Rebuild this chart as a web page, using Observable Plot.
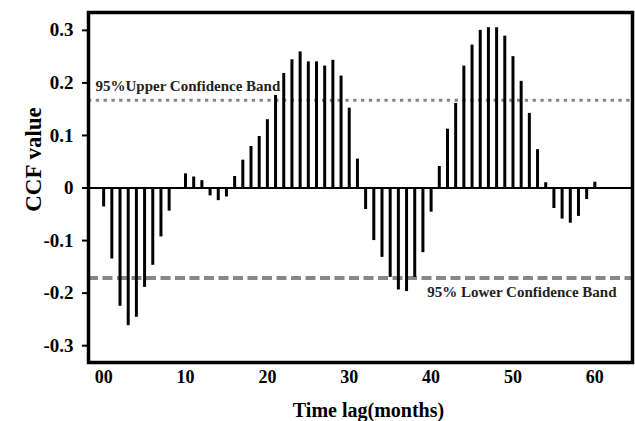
<!DOCTYPE html>
<html>
<head>
<meta charset="utf-8">
<script src="https://cdn.jsdelivr.net/npm/d3@7"></script>
<script src="https://cdn.jsdelivr.net/npm/@observablehq/plot@0.6"></script>
<style>
  html, body { margin: 0; padding: 0; background: #fff; }
</style>
</head>
<body>
<div id="chart"></div>
<script>
const lags = [0,1,2,3,4,5,6,7,8,9,10,11,12,13,14,15,16,17,18,19,20,
  21,22,23,24,25,26,27,28,29,30,31,32,33,34,35,36,37,38,39,40,
  41,42,43,44,45,46,47,48,49,50,51,52,53,54,55,56,57,58,59,60];
const ccf = [-0.036,-0.135,-0.225,-0.262,-0.246,-0.189,-0.147,-0.093,-0.044,0.000,
  0.027,0.021,0.014,-0.015,-0.024,-0.017,0.022,0.053,0.079,0.098,
  0.130,0.176,0.218,0.244,0.259,0.240,0.240,0.232,0.243,0.213,
  0.152,0.055,-0.041,-0.100,-0.132,-0.170,-0.194,-0.197,-0.170,-0.123,
  -0.046,0.041,0.112,0.161,0.232,0.272,0.300,0.305,0.305,0.289,
  0.250,0.203,0.142,0.073,0.010,-0.039,-0.059,-0.067,-0.054,-0.022,
  0.011];
const upperBand = 0.167;
const lowerBand = -0.171;
const upperLabel = "95%Upper Confidence Band";
const lowerLabel = "95% Lower Confidence Band";
const xTicks = [0,10,20,30,40,50,60];
const xTickLabels = ["00","10","20","30","40","50","60"];
const yTicks = [-0.3,-0.2,-0.1,0,0.1,0.2,0.3];
const xTitle = "Time lag(months)";
const yTitle = "CCF value";

const data = lags.map((l, i) => ({lag: l, value: ccf[i]}));
const font = "'Liberation Serif', 'Times New Roman', serif";

const chart = Plot.plot({
  width: 635,
  height: 421,
  marginLeft: 88,
  marginRight: 3,
  marginTop: 12,
  marginBottom: 59,
  style: {fontFamily: font, background: "white", color: "black"},
  x: {domain: [-1.85, 64.6]},
  y: {domain: [-0.332, 0.334]},
  marks: [
    Plot.ruleY([upperBand], {stroke: "#878787", strokeWidth: 3, strokeDasharray: "3.3,4.5"}),
    Plot.ruleY([lowerBand], {stroke: "#878787", strokeWidth: 4, strokeDasharray: "10,4.5"}),
    Plot.ruleX(data, {x: "lag", y1: 0, y2: "value", stroke: "black", strokeWidth: 3}),
    Plot.ruleY([0], {stroke: "black", strokeWidth: 2}),
    Plot.text([upperLabel], {y: upperBand, frameAnchor: "left", dx: 7, dy: -9, textAnchor: "start", lineAnchor: "bottom", fontSize: 15, fontWeight: "bold", fill: "#222"}),
    Plot.text([lowerLabel], {y: lowerBand, frameAnchor: "right", dx: -16, dy: 8, textAnchor: "end", lineAnchor: "top", fontSize: 15, fontWeight: "bold", fill: "#222"}),
    Plot.frame({stroke: "black", strokeWidth: 3.5}),
    Plot.axisY({ticks: yTicks, tickSize: 6, tickPadding: 9, strokeWidth: 2,
      tickFormat: d => d === 0 ? "0" : d.toFixed(1), fontSize: 19, fontWeight: "bold", label: null}),
    Plot.axisX({ticks: xTicks, tickSize: 0, tickPadding: 8,
      tickFormat: d => xTickLabels[xTicks.indexOf(d)], fontSize: 18, fontWeight: "bold", label: null}),
    Plot.text([xTitle], {frameAnchor: "bottom", dx: 8, dy: 48, fontSize: 20, fontWeight: "bold", fill: "black", textAnchor: "middle", lineAnchor: "middle"}),
    Plot.text([yTitle], {frameAnchor: "left", dx: -55, dy: -28, rotate: -90, fontSize: 23, fontWeight: "bold", fill: "black", textAnchor: "middle", lineAnchor: "middle"})
  ]
});
document.getElementById("chart").appendChild(chart);
</script>
</body>
</html>
